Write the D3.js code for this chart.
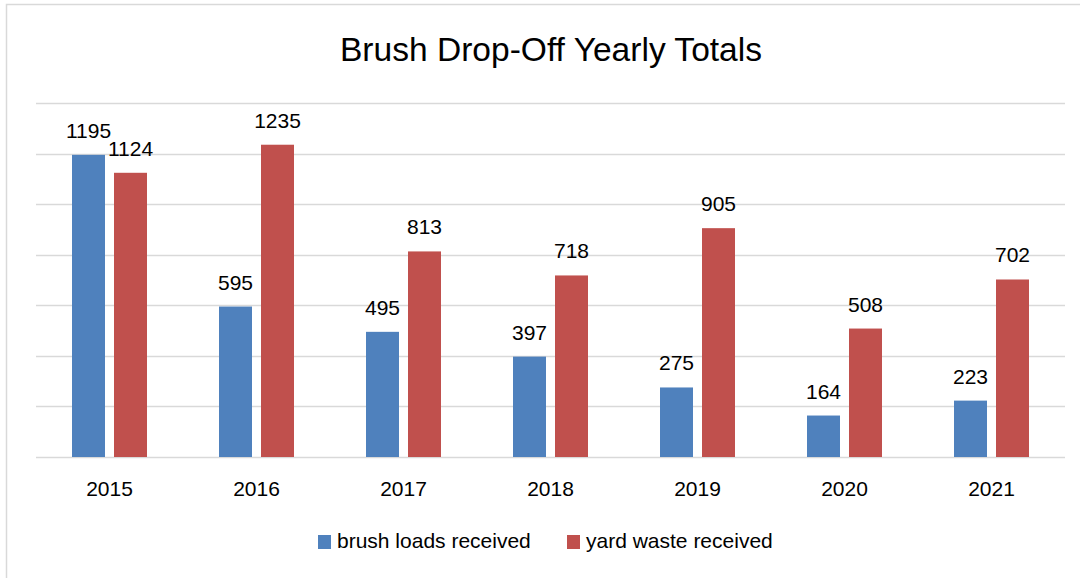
<!DOCTYPE html>
<html>
	<head>
		<title>Brush Drop-Off Yearly Totals</title>
		<script src="https://d3js.org/d3.v7.min.js" charset="utf-8"></script>
		<style>
			body{
				margin: 0;
				background: white;
				font-family: "Liberation Sans", Arial, sans-serif;
				}
			text{
				fill: #000;
			}
		</style>
	</head>
	<body>
		<script>
			// chart values
			var years = ["2015", "2016", "2017", "2018", "2019", "2020", "2021"];
			var seriesNames = ["brush loads received", "yard waste received"];
			var brushLoads = [1195, 595, 495, 397, 275, 164, 223];
			var yardWaste = [1124, 1235, 813, 718, 905, 508, 702];
			var gridTicks = [0, 200, 400, 600, 800, 1000, 1200, 1400];
			var colors = ["#4F81BD", "#C0504D"];

			var width = 1080;
			var height = 578;

			var rows = years.map(function(y, i){
				return {year: y, values: [brushLoads[i], yardWaste[i]]};
			});

			var svg = d3.select("body")
					.append("svg")
					.attr("width", width)
					.attr("height", height);

			// chart frame
			svg.append("rect")
				.attr("x", 6.5)
				.attr("y", 4.5)
				.attr("width", width)
				.attr("height", height)
				.attr("fill", "none")
				.attr("stroke", "#d9d9d9")
				.attr("stroke-width", 1.5);

			svg.append("text")
				.attr("x", 551)
				.attr("y", 61)
				.attr("text-anchor", "middle")
				.attr("font-size", 34)
				.attr("textLength", 422)
				.attr("lengthAdjust", "spacingAndGlyphs")
				.text("Brush Drop-Off Yearly Totals");

			var x0 = d3.scaleBand().domain(years).range([36, 1065]);
			var x1 = d3.scaleBand().domain(d3.range(2)).range([0, 75]).paddingInner(2 - 75 / 42);
			var y = d3.scaleLinear().domain([0, 1400]).range([457, 103]);
			var offset = (x0.bandwidth() - 75) / 2;

			// gridlines
			svg.append("g")
				.selectAll("line")
				.data(gridTicks)
				.enter()
				.append("line")
				.attr("x1", 36)
				.attr("x2", 1065)
				.attr("y1", function(d){ return Math.round(y(d)) + 0.5; })
				.attr("y2", function(d){ return Math.round(y(d)) + 0.5; })
				.attr("stroke", "#d9d9d9")
				.attr("stroke-width", 1.6);

			var groups = svg.append("g")
				.selectAll("g")
				.data(rows)
				.enter()
				.append("g")
				.attr("transform", function(d){ return "translate(" + (x0(d.year) + offset) + ",0)"; });

			groups.selectAll("rect")
				.data(function(d){ return d.values; })
				.enter()
				.append("rect")
				.attr("x", function(d, i){ return x1(i); })
				.attr("y", function(d){ return y(d); })
				.attr("width", x1.bandwidth())
				.attr("height", function(d){ return y(0) - y(d); })
				.attr("fill", function(d, i){ return colors[i]; });

			groups.selectAll("text")
				.data(function(d){ return d.values; })
				.enter()
				.append("text")
				.attr("x", function(d, i){ return x1(i) + x1.bandwidth() / 2; })
				.attr("y", function(d){ return y(d) - 17; })
				.attr("text-anchor", "middle")
				.attr("font-size", 21)
				.text(function(d){ return d; });

			// year labels
			svg.append("g")
				.selectAll("text")
				.data(years)
				.enter()
				.append("text")
				.attr("x", function(d){ return x0(d) + x0.bandwidth() / 2; })
				.attr("y", 496)
				.attr("text-anchor", "middle")
				.attr("font-size", 21)
				.text(function(d){ return d; });

			// legend
			var legendX = [318, 567];
			var legend = svg.append("g")
				.selectAll("g")
				.data(seriesNames)
				.enter()
				.append("g")
				.attr("transform", function(d, i){ return "translate(" + legendX[i] + ",535)"; });

			legend.append("rect")
				.attr("width", 13)
				.attr("height", 14)
				.attr("fill", function(d, i){ return colors[i]; });

			legend.append("text")
				.attr("x", 19)
				.attr("y", 13)
				.attr("font-size", 21)
				.text(function(d){ return d; });
		</script>
	</body>
</html>
